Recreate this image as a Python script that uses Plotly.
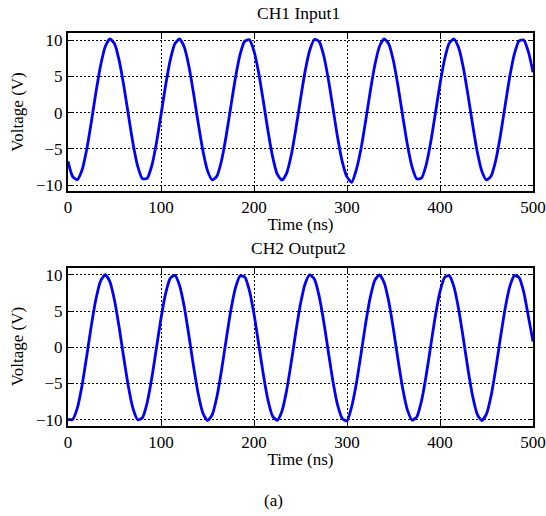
import plotly.graph_objects as go

# Time axis (ns), sampled every 5 ns
time_ns = list(range(0, 505, 5))

# CH1 Input1 voltage (V)
ch1_input1 = [
    -6.71, -8.81, -9.24, -7.95, -5.15, -1.35, 2.78, 6.48, 9.11, 10.19,
    9.52, 7.23, 3.73, -0.36, -4.30, -7.40, -9.09, -9.07, -7.35, -4.23,
    -0.28, 3.81, 7.29, 9.55, 10.18, 9.07, 6.42, 2.69, -1.43, -5.22,
    -7.99, -9.25, -8.78, -6.66, -3.26, 0.80, 4.80, 8.02, 9.88, 10.06,
    8.51, 5.53, 1.63, -2.48, -6.06, -8.48, -9.30, -8.37, -5.87, -2.24,
    1.88, 5.74, 8.65, 10.10, 9.82, 7.86, 4.58, 0.55, -3.49, -6.82,
    -8.86, -9.60, -7.86, -5.01, -1.18, 2.94, 6.61, 9.18, 10.19, 9.46,
    7.11, 3.57, -0.53, -4.45, -7.50, -9.12, -9.03, -7.25, -4.08, -0.11,
    3.96, 7.41, 9.61, 10.17, 8.99, 6.28, 2.53, -1.59, -5.35, -8.07,
    -9.27, -8.72, -6.54, -3.10, 0.97, 4.95, 8.12, 9.92, 10.03, 8.42,
    5.60,
]

# CH2 Output2 voltage (V)
ch2_output2 = [
    -9.95, -9.96, -8.40, -5.33, -1.32, 2.92, 6.62, 9.13, 10.00, 9.06,
    6.49, 2.75, -1.49, -5.48, -8.49, -9.99, -9.71, -7.70, -4.32, -0.17,
    4.00, 7.44, 9.54, 9.92, 8.52, 5.58, 1.62, -2.63, -6.41, -9.06,
    -10.10, -9.33, -6.90, -3.24, 0.99, 5.03, 8.16, 9.82, 9.71, 7.86,
    4.58, 0.47, -3.73, -7.27, -9.51, -10.07, -8.82, -6.01, -2.12, 2.13,
    5.99, 8.77, 9.97, 9.38, 7.09, 3.52, -0.68, -4.78, -8.02, -9.84,
    -10.15, -8.20, -5.04, -0.98, 3.24, 6.88, 9.27, 9.99, 8.91, 6.23,
    2.42, -1.83, -5.76, -8.67, -10.04, -9.61, -7.47, -4.00, 0.18, 4.31,
    7.67, 9.64, 9.88, 8.33, 5.29, 1.28, -2.96, -6.68, -9.21, -10.10,
    -9.19, -6.64, -2.91, 1.33, 5.32, 8.36, 9.88, 9.63, 7.64, 4.27,
    0.80,
]

x_ticks = [0, 100, 200, 300, 400, 500]
y_ticks = [-10, -5, 0, 5, 10]

titles = ["CH1 Input1", "CH2 Output2"]
x_label = "Time (ns)"
y_label = "Voltage (V)"
caption = "(a)"

W, H = 546, 516
FONT = "Liberation Serif"
BLUE = "#0000FF"

fig = go.Figure()
fig.add_trace(go.Scatter(x=time_ns, y=ch1_input1, mode="lines",
                         line=dict(color=BLUE, width=2.8, shape="spline", smoothing=0.6),
                         xaxis="x", yaxis="y", showlegend=False))
fig.add_trace(go.Scatter(x=time_ns, y=ch2_output2, mode="lines",
                         line=dict(color=BLUE, width=2.8, shape="spline", smoothing=0.6),
                         xaxis="x2", yaxis="y2", showlegend=False))

xdom = [68 / W, 533 / W]
top_dom = [1 - 191 / H, 1 - 33 / H]
bot_dom = [1 - 425.6 / H, 1 - 267.5 / H]

def xax(domain_anchor):
    return dict(domain=xdom, anchor=domain_anchor, range=[0, 500], tickvals=x_ticks,
                automargin=False,
                showline=True, linecolor="black", linewidth=2, mirror="ticks",
                ticks="inside", ticklen=4, tickcolor="black", tickwidth=1,
                showgrid=True, gridcolor="black", griddash="2px,2px", gridwidth=1,
                zeroline=False, tickfont=dict(family=FONT, size=17, color="black"),
                title=dict(text=x_label, font=dict(family=FONT, size=17, color="black"), standoff=2))

def yax(domain, anchor):
    return dict(domain=domain, anchor=anchor, range=[-10.8, 11.0], tickvals=y_ticks,
                automargin=False,
                showline=True, linecolor="black", linewidth=2, mirror="ticks",
                ticks="inside", ticklen=4, tickcolor="black", tickwidth=1,
                showgrid=True, gridcolor="black", griddash="2px,2px", gridwidth=1,
                zeroline=False, tickfont=dict(family=FONT, size=17, color="black"),
                title=dict(text=y_label, font=dict(family=FONT, size=17, color="black"), standoff=8))

fig.update_layout(
    width=W, height=H,
    margin=dict(l=0, r=0, t=0, b=0, autoexpand=False),
    paper_bgcolor="white", plot_bgcolor="white",
    xaxis=xax("y"), yaxis=yax(top_dom, "x"),
    xaxis2=xax("y2"), yaxis2=yax(bot_dom, "x2"),
    annotations=[
        dict(text=titles[0], x=298 / W, y=1 - 13 / H, xref="paper", yref="paper",
             showarrow=False, xanchor="center", yanchor="middle",
             font=dict(family=FONT, size=17.5, color="black")),
        dict(text=titles[1], x=298 / W, y=1 - 248 / H, xref="paper", yref="paper",
             showarrow=False, xanchor="center", yanchor="middle",
             font=dict(family=FONT, size=17.5, color="black")),
        dict(text=caption, x=273 / W, y=1 - 500 / H, xref="paper", yref="paper",
             showarrow=False, xanchor="center", yanchor="middle",
             font=dict(family=FONT, size=17, color="black")),
    ],
)

fig.write_html("out.html")
